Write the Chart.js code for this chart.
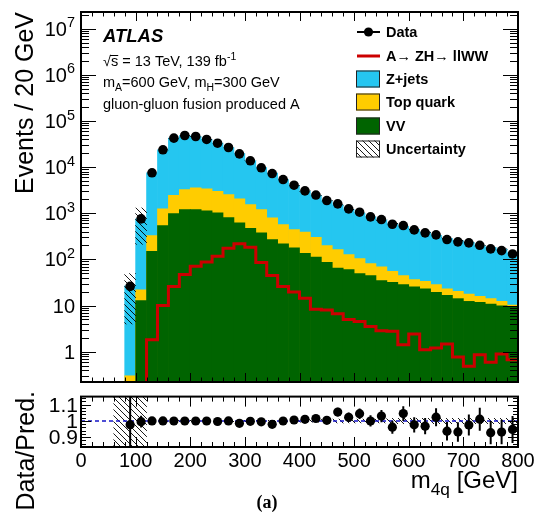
<!DOCTYPE html>
<html lang="en">
<head>
<meta charset="UTF-8">
<title>m4q distribution</title>
<script src="https://cdn.jsdelivr.net/npm/chart.js@4.4.0/dist/chart.umd.min.js"></script>
<style>
    body { margin: 0; background: #fff; }
    #wrap { position: relative; width: 543px; height: 516px; }
    canvas { position: absolute; left: 0; }
    #mainCanvas { top: 0; }
    #ratioCanvas { top: 392px; }
</style>
</head>
<body>
<div id="wrap">
    <canvas id="mainCanvas" width="543" height="392"></canvas>
    <canvas id="ratioCanvas" width="543" height="124"></canvas>
</div>
<script>
// 20 GeV bins, 0 - 800 GeV
const binCenters = [10,30,50,70,90,110,130,150,170,190,210,230,250,270,290,310,330,350,370,390,
                    410,430,450,470,490,510,530,550,570,590,610,630,650,670,690,710,730,750,770,790];

const dataCounts = [null,null,null,null,26,755,7520,23700,42400,48400,46100,39800,33000,26600,19400,13700,9660,7260,5380,4050,
                    3050,2480,1885,1597,1244,1052,836,730,577,541,436,376,340,269,240,228,202,169,155,131];

const zJets = [0,0,0,0.1,26.3,736,7190,22450,39940,45130,42550,36400,30100,24050,17630,12180,8510,6615,4811,3582,
               2630,2143,1678,1351,1089,903,755,640,545,473,410,355,304,264,237,216,184,168,154,128];

const topQuark = [0,0,0,0,0.3,9.2,178,704,1475,2070,2350,2275,1980,1738,1430,1077,824,526,352,265,
                  255,188,113,98,67,55,36.5,34,23,16.2,11.1,10.5,9,6.4,6.2,5.5,4.1,3.3,2.4,0.6];

const vv = [0,0,0,0,0,12.8,150,541,985,1200,1200,1125,1020,807,620,473,376,269,217,178,
            135,112,86,65,60,49,44.5,34.7,31.9,28.3,25.4,23,19.3,16.6,14.1,12.3,11.7,10.8,9.9,9.6];

// signal A -> ZH -> llWW (mA=600, mH=300)
const signal = [0.01,0.01,0.01,0.01,0.01,0.01,1.82,10,26,46.8,70.7,88,117,174,217,183,86,45,26,19.7,
                14.4,8.3,8.0,6.6,5.0,4.5,3.5,2.85,2.76,1.42,2.42,1.1,1.2,1.47,0.77,0.48,0.86,0.59,0.89,0.67];

// relative background uncertainty
const uncRel = [0,0,0,0.95,0.85,0.72,0.004,0.004,0.004,0.004,0.004,0.004,0.004,0.004,0.004,0.004,0.004,0.004,0.004,0.004,
                0.008,0.008,0.008,0.012,0.012,0.012,0.012,0.012,0.016,0.016,0.016,0.016,0.016,0.016,0.016,0.016,0.016,0.016,0.016,0.016];

const xTickLabels = [0,100,200,300,400,500,600,700,800];
const yPowers = [0,1,2,3,4,5,6,7];
const ratioTickLabels = [0.9,1,1.1];

const FONT = '"Liberation Sans", Arial, sans-serif';
const CYAN = '#25c6f0';
const YELLOW = '#ffcc00';
const GREEN = '#006400';
const RED = '#cc0000';

const totalMC = binCenters.map((_, i) => zJets[i] + topQuark[i] + vv[i]);
const topCum = binCenters.map((_, i) => topQuark[i] + vv[i]);

function makeHatch() {
    const c = document.createElement('canvas');
    c.width = 6; c.height = 6;
    const g = c.getContext('2d');
    g.strokeStyle = '#000';
    g.lineWidth = 0.9;
    g.beginPath();
    g.moveTo(-1, -1); g.lineTo(7, 7);
    g.moveTo(-1, 5); g.lineTo(1, 7);
    g.moveTo(5, -1); g.lineTo(7, 1);
    g.stroke();
    return g.createPattern(c, 'repeat');
}
const hatch = makeHatch();

// text with sub/superscripts: parts = [[text, mode]], mode 0 normal, 1 sub, 2 sup
function richText(ctx, x, y, parts, size, weight, dryRun) {
    let cx = x;
    for (const [t, mode] of parts) {
        const s = mode ? size * 0.72 : size;
        ctx.font = (weight || '') + ' ' + s + 'px ' + FONT;
        const dy = mode === 1 ? size * 0.3 : mode === 2 ? -size * 0.42 : 0;
        if (!dryRun) ctx.fillText(t, cx, y + dy);
        cx += ctx.measureText(t).width;
    }
    return cx - x;
}

function drawFrameAndXTicks(ctx, chart, maj, min) {
    const {left, right, top, bottom} = chart.chartArea;
    const xs = chart.scales.x;
    ctx.strokeStyle = '#000';
    ctx.lineWidth = 1;
    ctx.beginPath();
    for (let v = 0; v <= 800; v += 20) {
        const px = Math.round(xs.getPixelForValue(v)) + 0.5;
        const len = v % 100 === 0 ? maj : min;
        ctx.moveTo(px, bottom); ctx.lineTo(px, bottom - len);
        ctx.moveTo(px, top); ctx.lineTo(px, top + len);
    }
    ctx.stroke();
    ctx.lineWidth = 2;
    ctx.strokeRect(left, top, right - left, bottom - top);
}

function drawErrorBars(ctx, chart, values, errors) {
    const {left, right, top, bottom} = chart.chartArea;
    const xs = chart.scales.x, ys = chart.scales.y;
    ctx.save();
    ctx.beginPath();
    ctx.rect(left, top, right - left, bottom - top);
    ctx.clip();
    ctx.strokeStyle = '#000';
    ctx.lineWidth = 2;
    ctx.beginPath();
    binCenters.forEach((x, i) => {
        if (values[i] == null) return;
        const px = xs.getPixelForValue(x);
        const lo = Math.max(values[i] - errors[i], ys.min * 0.5);
        ctx.moveTo(px, ys.getPixelForValue(lo));
        ctx.lineTo(px, ys.getPixelForValue(values[i] + errors[i]));
    });
    ctx.stroke();
    ctx.restore();
}

const dataErr = dataCounts.map(n => n == null ? null : Math.sqrt(n));
const ratio = dataCounts.map((n, i) => n == null ? null : n / totalMC[i]);
const ratioErr = dataCounts.map((n, i) => n == null ? null : Math.sqrt(n) / totalMC[i]);

const mainDecor = {
    id: 'mainDecor',
    afterDatasetsDraw(chart) {
        const ctx = chart.ctx;
        const {left, right, top, bottom} = chart.chartArea;
        const ys = chart.scales.y;
        drawErrorBars(ctx, chart, dataCounts, dataErr);

        // log ticks on left and right
        ctx.strokeStyle = '#000';
        ctx.lineWidth = 1;
        ctx.beginPath();
        for (let e = -1; e <= 7; e++) {
            for (let m = 1; m <= 9; m++) {
                const v = m * Math.pow(10, e);
                if (v < ys.min || v > ys.max) continue;
                const py = Math.round(ys.getPixelForValue(v)) + 0.5;
                const len = m === 1 ? 15 : 8;
                ctx.moveTo(left, py); ctx.lineTo(left + len, py);
                ctx.moveTo(right, py); ctx.lineTo(right - len, py);
            }
        }
        ctx.stroke();
        drawFrameAndXTicks(ctx, chart, 9, 4.5);

        // y tick labels
        ctx.fillStyle = '#000';
        ctx.textBaseline = 'alphabetic';
        yPowers.forEach(p => {
            const py = ys.getPixelForValue(Math.pow(10, p));
            let parts = p === 0 ? [['1', 0]] : p === 1 ? [['10', 0]] : [['10', 0], [String(p), 2]];
            const w = richText(ctx, 0, 0, parts, 20, '', true);
            richText(ctx, 75 - w, py + 7, parts, 20, '');
        });

        // y title
        ctx.save();
        ctx.translate(33, 12);
        ctx.rotate(-Math.PI / 2);
        ctx.font = '25px ' + FONT;
        ctx.textAlign = 'right';
        ctx.fillText('Events / 20 GeV', 0, 0);
        ctx.restore();

        // ATLAS label and info
        ctx.textAlign = 'left';
        ctx.font = 'italic bold 18.5px ' + FONT;
        ctx.fillText('ATLAS', 103, 42);
        let w = richText(ctx, 103, 66, [['\u221a', 0]], 14.5, '');
        const sW = richText(ctx, 103 + w, 66, [['s', 0]], 14.5, '');
        ctx.lineWidth = 1;
        ctx.beginPath();
        ctx.moveTo(103 + w - 1, 55.5); ctx.lineTo(103 + w + sW, 55.5);
        ctx.stroke();
        richText(ctx, 103 + w + sW, 66, [[' = 13 TeV, 139 fb', 0], ['-1', 2]], 14.5, '');
        richText(ctx, 103, 87, [['m', 0], ['A', 1], ['=600 GeV, m', 0], ['H', 1], ['=300 GeV', 0]], 14.5, '');
        ctx.font = '14.5px ' + FONT;
        ctx.fillText('gluon-gluon fusion produced A', 103, 109);

        // legend
        const lx = 356, tx = 386;
        const rows = [32, 56, 79, 102, 126, 149];
        ctx.font = 'bold 14.5px ' + FONT;
        ctx.textBaseline = 'middle';
        ctx.strokeStyle = '#000';
        ctx.lineWidth = 2;
        ctx.beginPath(); ctx.moveTo(lx + 1, rows[0]); ctx.lineTo(lx + 24, rows[0]); ctx.stroke();
        ctx.beginPath(); ctx.arc(lx + 12.5, rows[0], 4.6, 0, 2 * Math.PI); ctx.fill();
        ctx.fillText('Data', tx, rows[0] + 1);
        ctx.strokeStyle = RED;
        ctx.lineWidth = 3;
        ctx.beginPath(); ctx.moveTo(lx + 1, rows[1]); ctx.lineTo(lx + 24, rows[1]); ctx.stroke();
        ctx.fillText('A\u2192 ZH\u2192 llWW', tx, rows[1] + 1);
        const boxes = [[CYAN, 'Z+jets'], [YELLOW, 'Top quark'], [GREEN, 'VV'], [hatch, 'Uncertainty']];
        boxes.forEach(([col, txt], k) => {
            const ry = rows[k + 2];
            ctx.fillStyle = col === hatch ? '#fff' : col;
            ctx.fillRect(lx, ry - 8.5, 24, 17);
            if (col === hatch) { ctx.fillStyle = hatch; ctx.fillRect(lx, ry - 8.5, 24, 17); }
            ctx.strokeStyle = '#222';
            ctx.lineWidth = 1;
            ctx.strokeRect(lx + 0.5, ry - 8, 23, 16);
            ctx.fillStyle = '#000';
            ctx.fillText(txt, tx, ry + 1);
        });
    }
};

const ratioDecor = {
    id: 'ratioDecor',
    afterDatasetsDraw(chart) {
        const ctx = chart.ctx;
        const {left, right, top, bottom} = chart.chartArea;
        const ys = chart.scales.y, xs = chart.scales.x;
        drawErrorBars(ctx, chart, ratio, ratioErr);

        ctx.strokeStyle = '#000';
        ctx.lineWidth = 1;
        ctx.beginPath();
        for (let k = 84; k <= 115; k += 2) {
            const v = k / 100;
            const py = Math.round(ys.getPixelForValue(v)) + 0.5;
            const len = k % 10 === 0 ? 10 : 5;
            ctx.moveTo(left, py); ctx.lineTo(left + len, py);
            ctx.moveTo(right, py); ctx.lineTo(right - len, py);
        }
        ctx.stroke();
        drawFrameAndXTicks(ctx, chart, 10, 5);

        ctx.fillStyle = '#000';
        ctx.font = '21px ' + FONT;
        ctx.textAlign = 'right';
        ctx.textBaseline = 'middle';
        ratioTickLabels.forEach(v => ctx.fillText(String(v), 78, ys.getPixelForValue(v) + 1));

        ctx.font = '20px ' + FONT;
        ctx.textAlign = 'center';
        xTickLabels.forEach(v => ctx.fillText(String(v), xs.getPixelForValue(v), 69));

        // y title
        ctx.save();
        ctx.translate(34, -1);
        ctx.rotate(-Math.PI / 2);
        ctx.font = '25px ' + FONT;
        ctx.textAlign = 'right';
        ctx.textBaseline = 'alphabetic';
        ctx.fillText('Data/Pred.', 0, 0);
        ctx.restore();

        // x title
        ctx.textAlign = 'left';
        ctx.textBaseline = 'alphabetic';
        const xt = [['m', 0], ['4q', 1], [' [GeV]', 0]];
        const w = richText(ctx, 0, 0, xt, 24, '', true);
        richText(ctx, right - w, 96, xt, 24, '');

        ctx.font = 'bold 18px "Liberation Serif", "Times New Roman", serif';
        ctx.textAlign = 'center';
        ctx.fillText('(a)', 267, 116);
    }
};

const barBase = {type: 'bar', grouped: false, barPercentage: 1.0, categoryPercentage: 1.0, borderWidth: 0};

new Chart(document.getElementById('mainCanvas'), {
    type: 'bar',
    data: {
        datasets: [
            {...barBase, label: 'Z+jets', backgroundColor: CYAN, order: 6,
             data: binCenters.map((x, i) => ({x, y: totalMC[i] || null}))},
            {...barBase, label: 'Top quark', backgroundColor: YELLOW, order: 5,
             data: binCenters.map((x, i) => ({x, y: topCum[i] || null}))},
            {...barBase, label: 'VV', backgroundColor: GREEN, order: 4,
             data: binCenters.map((x, i) => ({x, y: vv[i] || null}))},
            {type: 'line', label: 'A->ZH->llWW', borderColor: RED, borderWidth: 3, pointRadius: 0,
             stepped: true, order: 3,
             data: binCenters.map((x, i) => ({x: x - 10, y: signal[i]}))
                   .concat([{x: 800, y: signal[signal.length - 1]}])},
            {...barBase, label: 'Uncertainty', backgroundColor: hatch, order: 2,
             data: binCenters.map((x, i) => ({x, y: uncRel[i] ? [totalMC[i] * (1 - uncRel[i]), totalMC[i] * (1 + uncRel[i])] : null}))},
            {type: 'line', label: 'Data', showLine: false, pointRadius: 4.8, pointBackgroundColor: '#000',
             pointBorderWidth: 0, order: 1,
             data: binCenters.map((x, i) => ({x, y: dataCounts[i]}))}
        ]
    },
    options: {
        responsive: false,
        animation: false,
        layout: {padding: {left: 81, right: 25, top: 12, bottom: 10}},
        plugins: {legend: {display: false}, tooltip: {enabled: false}},
        scales: {
            x: {type: 'linear', min: 0, max: 800, offset: false, grid: {offset: false}, display: false},
            y: {type: 'logarithmic', min: 0.22, max: 2.3e7, display: false}
        }
    },
    plugins: [mainDecor]
});

new Chart(document.getElementById('ratioCanvas'), {
    type: 'bar',
    data: {
        datasets: [
            {...barBase, label: 'Uncertainty', backgroundColor: hatch, order: 3,
             data: binCenters.map((x, i) => ({x, y: uncRel[i] ? [1 - uncRel[i], 1 + uncRel[i]] : null}))},
            {type: 'line', label: 'unity', borderColor: '#1414c8', borderWidth: 1.4, borderDash: [4, 3],
             pointRadius: 0, order: 2, data: [{x: 0, y: 1}, {x: 800, y: 1}]},
            {type: 'line', label: 'Data/Pred.', showLine: false, pointRadius: 4.6, pointBackgroundColor: '#000',
             pointBorderWidth: 0, order: 1,
             data: binCenters.map((x, i) => ({x, y: ratio[i]}))}
        ]
    },
    options: {
        responsive: false,
        animation: false,
        layout: {padding: {left: 81, right: 25, top: 2, bottom: 69}},
        plugins: {legend: {display: false}, tooltip: {enabled: false}},
        scales: {
            x: {type: 'linear', min: 0, max: 800, offset: false, grid: {offset: false}, display: false},
            y: {type: 'linear', min: 0.84, max: 1.15, display: false}
        }
    },
    plugins: [ratioDecor]
});
</script>
</body>
</html>
